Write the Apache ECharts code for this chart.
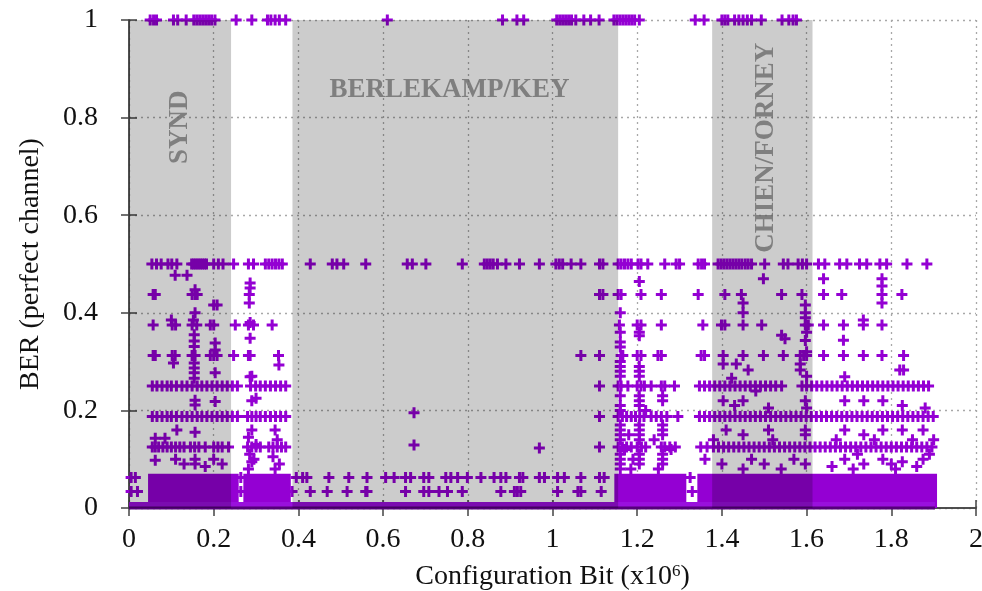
<!DOCTYPE html>
<html><head><meta charset="utf-8">
<script src="https://cdn.jsdelivr.net/npm/echarts@6/dist/echarts.min.js"></script>
<style>html,body{margin:0;padding:0;background:#fff;overflow:hidden}#c{width:982px;height:591px}</style>
</head><body><div id="c"></div>
<script>
// ---- data ----
const xTicks = ['0','0.2','0.4','0.6','0.8','1','1.2','1.4','1.6','1.8','2'];
const yTicks = ['0','0.2','0.4','0.6','0.8','1'];
const regionNames = ['SYND', 'BERLEKAMP/KEY', 'CHIEN/FORNEY'];
const regionSpans = [[0, 0.241], [0.386, 1.155], [1.377, 1.614]];
const denseBlocks = [[0.045, 0.259, 0.07], [0.27, 0.382, 0.07], [1.146, 1.316, 0.07], [1.342, 1.908, 0.07]];
const zeroLine = [[0, 1.903]];

const xAt100 = [0.05,0.058,0.065,0.105,0.115,0.135,0.153,0.16,0.167,0.174,0.181,0.188,0.195,0.203,0.253,0.29,0.327,0.335,0.345,0.355,0.37,0.61,0.882,0.916,0.932,1.01,1.017,1.024,1.031,1.038,1.045,1.055,1.074,1.09,1.11,1.145,1.152,1.159,1.166,1.173,1.18,1.187,1.194,1.205,1.337,1.358,1.40,1.407,1.414,1.43,1.44,1.45,1.46,1.47,1.493,1.542,1.558,1.568,1.576];
const xAt050 = [0.054,0.065,0.076,0.092,0.101,0.113,0.148,0.153,0.158,0.163,0.168,0.173,0.178,0.183,0.2,0.211,0.222,0.247,0.282,0.294,0.322,0.33,0.338,0.346,0.354,0.362,0.428,0.48,0.491,0.507,0.559,0.657,0.669,0.701,0.787,0.839,0.846,0.853,0.86,0.87,0.89,0.922,0.969,1.008,1.016,1.024,1.044,1.067,1.111,1.119,1.155,1.162,1.17,1.178,1.186,1.202,1.209,1.225,1.265,1.292,1.3,1.344,1.352,1.359,1.391,1.398,1.405,1.412,1.419,1.426,1.433,1.44,1.447,1.455,1.462,1.47,1.501,1.545,1.556,1.58,1.59,1.6,1.628,1.643,1.678,1.695,1.725,1.742,1.773,1.789,1.837,1.884];
const xAt044 = [0.057,0.062,0.149,0.156,0.161,0.284,1.111,1.119,1.155,1.162,1.209,1.257,1.344,1.407,1.446,1.541,1.589,1.64,1.683,1.778,1.825];
const xAt038 = [0.057,0.102,0.11,0.149,0.16,0.192,0.2,0.251,0.282,0.294,0.338,1.158,1.2,1.209,1.257,1.355,1.399,1.407,1.45,1.494,1.597,1.604,1.64,1.687,1.734,1.778];
const xAt031 = [0.057,0.062,0.102,0.109,0.149,0.152,0.156,0.192,0.2,0.208,0.247,0.282,0.286,0.353,1.067,1.111,1.162,1.166,1.2,1.209,1.249,1.257,1.351,1.359,1.403,1.45,1.498,1.545,1.585,1.593,1.6,1.64,1.687,1.734,1.778,1.829];
const xAt025 = [0.055,0.066,0.078,0.09,0.1,0.112,0.125,0.137,0.149,0.161,0.172,0.184,0.196,0.208,0.22,0.232,0.244,0.256,0.287,0.299,0.31,0.322,0.334,0.346,0.358,0.37,1.111,1.155,1.162,1.178,1.2,1.209,1.217,1.233,1.257,1.265,1.288,1.347,1.359,1.371,1.383,1.395,1.407,1.419,1.431,1.443,1.455,1.467,1.479,1.491,1.503,1.515,1.527,1.541,1.589,1.6,1.612,1.624,1.636,1.648,1.66,1.672,1.684,1.696,1.708,1.72,1.732,1.744,1.756,1.768,1.78,1.792,1.804,1.816,1.828,1.84,1.852,1.864,1.876,1.888];
const xAt019 = [0.055,0.066,0.078,0.09,0.1,0.112,0.125,0.137,0.149,0.161,0.172,0.184,0.196,0.208,0.22,0.232,0.244,0.256,0.28,0.29,0.3,0.31,0.322,0.334,0.346,0.358,0.37,1.111,1.155,1.165,1.175,1.186,1.196,1.206,1.216,1.233,1.245,1.257,1.27,1.296,1.347,1.359,1.371,1.383,1.395,1.407,1.419,1.431,1.443,1.455,1.467,1.479,1.491,1.503,1.515,1.527,1.539,1.551,1.563,1.575,1.587,1.599,1.611,1.623,1.635,1.647,1.659,1.671,1.683,1.695,1.707,1.719,1.731,1.743,1.755,1.767,1.779,1.791,1.803,1.815,1.827,1.839,1.851,1.863,1.875,1.887,1.899];
const xAt013 = [0.055,0.062,0.07,0.08,0.09,0.1,0.11,0.12,0.13,0.145,0.155,0.165,0.18,0.2,0.21,0.22,0.235,0.28,0.29,0.3,0.31,0.33,0.34,0.35,0.36,0.37,1.111,1.155,1.165,1.175,1.186,1.2,1.21,1.22,1.257,1.265,1.277,1.29,1.35,1.365,1.38,1.392,1.404,1.416,1.428,1.44,1.452,1.464,1.476,1.488,1.5,1.512,1.524,1.536,1.548,1.56,1.572,1.584,1.596,1.608,1.62,1.632,1.644,1.656,1.668,1.68,1.692,1.704,1.716,1.728,1.74,1.752,1.764,1.776,1.788,1.8,1.812,1.824,1.836,1.848,1.86,1.872,1.884,1.896];
const xAt006 = [0.005,0.015,0.264,0.395,0.41,0.42,0.472,0.519,0.562,0.606,0.626,0.653,0.665,0.696,0.708,0.748,0.76,0.776,0.799,0.831,0.862,0.878,0.89,0.922,0.93,0.969,0.981,1.012,1.028,1.067,1.111,1.122,1.325];
const xAt003 = [0.005,0.02,0.264,0.385,0.428,0.468,0.515,0.559,0.562,0.653,0.696,0.708,0.732,0.752,0.787,0.878,0.91,0.917,0.925,1.012,1.06,1.067,1.115,1.33];
const offLevel = [
 [0.109,0.477],[0.137,0.477],[0.156,0.447],[0.2,0.416],[0.208,0.416],[0.286,0.461],[0.286,0.451],[0.284,0.42],
 [0.1,0.385],[0.152,0.385],[0.156,0.4],[0.286,0.38],[0.286,0.348],
 [0.154,0.355],[0.154,0.342],[0.154,0.331],[0.154,0.297],[0.154,0.287],[0.154,0.277],[0.154,0.266],
 [0.2035,0.338],[0.2035,0.324],[0.2035,0.277],[0.105,0.297],
 [0.156,0.221],[0.156,0.211],[0.2035,0.218],[0.286,0.269],
 [0.113,0.16],[0.156,0.155],[0.062,0.143],[0.085,0.143],
 [0.062,0.098],[0.11,0.1],[0.156,0.1],[0.156,0.09],[0.2,0.1],[0.22,0.09],[0.13,0.09],[0.18,0.085],
 [0.354,0.293],[0.282,0.145],[0.285,0.11],[0.29,0.095],[0.282,0.08],[0.3,0.13],[0.345,0.16],[0.35,0.14],[0.34,0.105],[0.355,0.09],[0.345,0.08],[0.29,0.27],[0.29,0.22],[0.3,0.225],[0.29,0.16],[0.295,0.1],
 [0.673,0.195],[0.673,0.129],[0.969,0.123],
 [1.16,0.4],[1.16,0.36],[1.16,0.34],[1.16,0.33],[1.16,0.3],[1.16,0.29],[1.16,0.28],[1.16,0.27],[1.16,0.23],[1.16,0.21],[1.16,0.2],[1.16,0.17],[1.16,0.16],[1.16,0.15],[1.16,0.14],[1.16,0.11],[1.16,0.1],[1.16,0.09],[1.16,0.08],
 [1.205,0.464],[1.205,0.36],[1.205,0.353],[1.205,0.29],[1.205,0.28],[1.205,0.27],[1.205,0.23],[1.205,0.22],[1.205,0.21],[1.205,0.17],[1.205,0.16],[1.205,0.15],[1.205,0.14],[1.205,0.11],[1.205,0.1],[1.205,0.09],
 [1.26,0.23],[1.26,0.22],[1.26,0.17],[1.26,0.16],[1.26,0.15],[1.26,0.11],[1.26,0.1],[1.26,0.09],[1.18,0.15],[1.19,0.1],[1.22,0.2],[1.24,0.14],[1.28,0.12],[1.17,0.12],[1.185,0.08],[1.25,0.08],
 [1.498,0.47],[1.597,0.416],[1.597,0.4],[1.597,0.39],[1.45,0.4],[1.45,0.42],[1.541,0.354],[1.549,0.347],[1.597,0.343],[1.403,0.295],[1.434,0.295],[1.585,0.295],[1.462,0.283],[1.585,0.283],[1.423,0.266],
 [1.403,0.22],[1.43,0.21],[1.45,0.22],[1.51,0.205],[1.597,0.22],[1.6,0.205],[1.41,0.16],[1.45,0.15],[1.51,0.16],[1.597,0.16],[1.597,0.15],
 [1.4,0.09],[1.45,0.08],[1.5,0.09],[1.54,0.08],[1.597,0.09],[1.36,0.1],[1.38,0.14],[1.47,0.1],[1.52,0.14],[1.57,0.1],[1.6,0.27],[1.6,0.32],[1.6,0.36],[1.48,0.24],
 [1.64,0.47],[1.778,0.47],[1.778,0.455],[1.778,0.42],[1.734,0.385],[1.687,0.344],[1.69,0.269],[1.82,0.283],[1.829,0.283],[1.88,0.205],
 [1.69,0.22],[1.735,0.22],[1.78,0.22],[1.826,0.21],[1.69,0.16],[1.735,0.15],[1.78,0.16],[1.826,0.16],[1.875,0.16],
 [1.69,0.1],[1.735,0.09],[1.78,0.1],[1.826,0.095],[1.875,0.1],[1.67,0.14],[1.72,0.11],[1.76,0.14],[1.8,0.09],[1.85,0.14],[1.89,0.11],[1.66,0.085],[1.71,0.08],[1.81,0.08],[1.86,0.085],[1.9,0.14]
];
const levelRows = [[1, xAt100],[0.5, xAt050],[0.4375, xAt044],[0.375, xAt038],[0.3125, xAt031],[0.25, xAt025],[0.1875, xAt019],[0.125, xAt013],[0.0625, xAt006],[0.034, xAt003]];

// ---- chart ----
const PURPLE = '#9400d3';
const FONT = '"Liberation Serif","DejaVu Serif",serif';
const plusPath = 'path://M4,0H7V4H11V7H7V11H4V7H0V4H4Z';
const points = [];
levelRows.forEach(([y, xs]) => xs.forEach(x => points.push([x, y])));
offLevel.forEach(p => points.push(p));

const axisBase = {
  type: 'value',
  axisLine: { show: true, lineStyle: { color: '#444', width: 1.5 } },
  axisTick: { show: true, inside: true, length: 8, lineStyle: { color: '#444', width: 1.5 } }
};
const chart = echarts.init(document.getElementById('c'), null, { renderer: 'canvas' });
chart.setOption({
  animation: false,
  backgroundColor: '#fff',
  grid: { left: 129, right: 6, top: 20, bottom: 83, containLabel: false, outerBoundsMode: 'none' },
  xAxis: [
    Object.assign({}, axisBase, {
      min: 0, max: 2, interval: 0.2, position: 'bottom',
      name: 'Configuration Bit (x10{s|6})', nameLocation: 'middle', nameGap: 55,
      nameTextStyle: { fontFamily: FONT, fontSize: 28, color: '#111', rich: { s: { fontFamily: FONT, fontSize: 17, color: '#111', verticalAlign: 'top', padding: [0, 0, 10, 0] } } },
      axisLabel: { fontFamily: FONT, fontSize: 28, color: '#111', margin: 18, formatter: v => xTicks[Math.round(v / 0.2)] },
      splitLine: { show: true, lineStyle: { color: '#a8a8a8', width: 1.3, type: [2, 4] } }
    }),
    Object.assign({}, axisBase, { min: 0, max: 2, interval: 0.2, position: 'top', axisLabel: { show: false }, splitLine: { show: false } })
  ],
  yAxis: [
    Object.assign({}, axisBase, {
      min: 0, max: 1, interval: 0.2, position: 'left',
      name: 'BER (perfect channel)', nameLocation: 'middle', nameGap: 84, nameRotate: 90,
      nameTextStyle: { fontFamily: FONT, fontSize: 28, color: '#111' },
      axisLabel: { fontFamily: FONT, fontSize: 28, color: '#111', margin: 31, formatter: v => yTicks[Math.round(v / 0.2)] },
      splitLine: { show: true, lineStyle: { color: '#a8a8a8', width: 1.3, type: [2, 4] } }
    }),
    Object.assign({}, axisBase, { min: 0, max: 1, interval: 0.2, position: 'right', axisLabel: { show: false }, splitLine: { show: false } })
  ],
  series: [
    {
      type: 'custom', name: 'dense', z: 2, clip: false,
      data: denseBlocks, encode: { x: [0, 1], y: 2 },
      renderItem: (params, api) => {
        const a = api.coord([api.value(0), api.value(2)]);
        const b = api.coord([api.value(1), 0]);
        return { type: 'rect', shape: { x: a[0], y: a[1], width: b[0] - a[0], height: b[1] - a[1] }, style: { fill: PURPLE } };
      }
    },
    {
      type: 'scatter', name: 'BER', z: 3, clip: false,
      symbol: plusPath, symbolSize: 11,
      itemStyle: { color: PURPLE, opacity: 1 },
      data: points
    },
    {
      type: 'custom', name: 'zero', z: 3, clip: false,
      data: zeroLine, encode: { x: [0, 1] },
      renderItem: (params, api) => {
        const a = api.coord([api.value(0), 0]);
        const b = api.coord([api.value(1), 0]);
        return { type: 'group', children: [
          { type: 'rect', shape: { x: a[0], y: a[1] - 6, width: b[0] - a[0], height: 5 }, style: { fill: '#9a10dd' } },
          { type: 'rect', shape: { x: a[0], y: a[1] - 1.5, width: b[0] - a[0], height: 3 }, style: { fill: '#55007a' } }
        ] };
      }
    },
    {
      type: 'scatter', name: 'regions', z: 5, data: [], silent: true,
      markArea: {
        silent: true, z: 5,
        itemStyle: { color: 'rgba(0,0,0,0.2)' },
        data: regionSpans.map(s => [{ xAxis: s[0] }, { xAxis: s[1] }])
      }
    },
    {
      type: 'scatter', name: 'labels', z: 6, symbolSize: 0, silent: true,
      label: { show: true, position: 'inside', fontFamily: FONT, fontSize: 27, fontWeight: 'bold', color: '#6b6b6b' },
      data: [
        { value: [0.121, 0.78], label: { formatter: regionNames[0], rotate: 90 } },
        { value: [0.757, 0.857], label: { formatter: regionNames[1] } },
        { value: [1.505, 0.738], label: { formatter: regionNames[2], rotate: 90 } }
      ]
    }
  ]
});
</script></body></html>
